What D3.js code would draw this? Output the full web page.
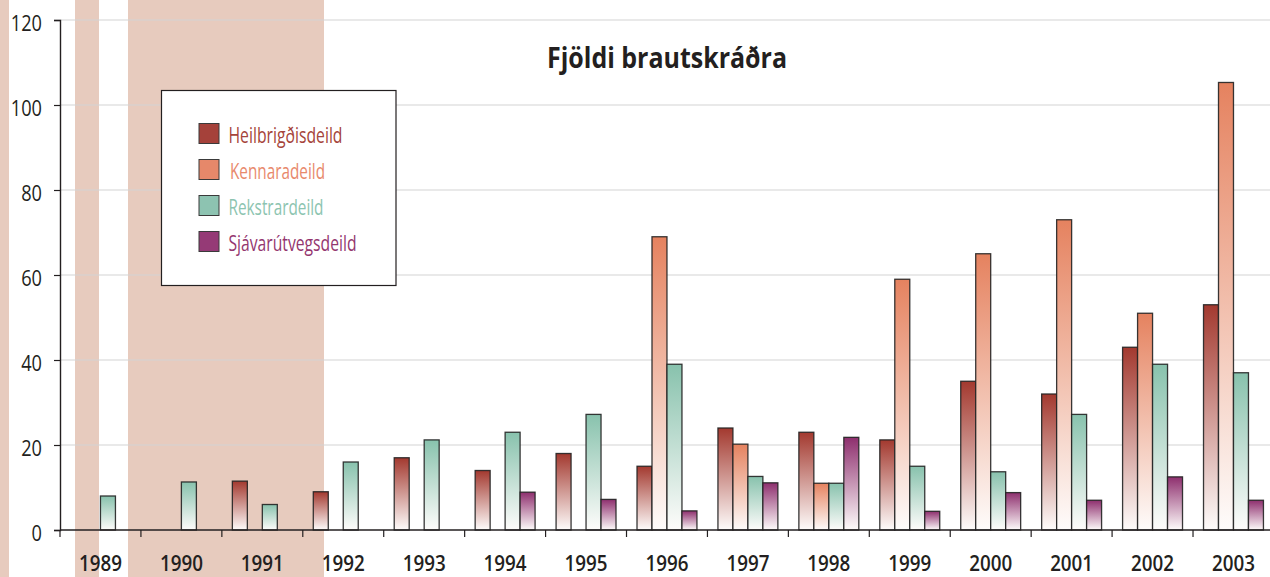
<!DOCTYPE html>
<html>
<head>
<meta charset="utf-8">
<script src="https://cdn.jsdelivr.net/npm/d3@7"></script>
<style>
  body { margin: 0; background: #fff; }
  text { font-family: "Open Sans", "Noto Sans", sans-serif; fill: #231f20; }
</style>
</head>
<body>
<div id="chart"></div>
<script>
// data
var years = ['1989','1990','1991','1992','1993','1994','1995','1996','1997','1998','1999','2000','2001','2002','2003']
var series = ['Heilbrigðisdeild','Kennaradeild','Rekstrardeild','Sjávarútvegsdeild']
var heilbrigdis  = [0, 0, 11.5, 9, 17, 14, 18, 15, 24, 23, 21.2, 35, 32, 43, 53]
var kennara      = [0, 0, 0, 0, 0, 0, 0, 69, 20.2, 11, 59, 65, 73, 51, 105.3]
var rekstrar     = [8, 11.3, 6, 16, 21.2, 23, 27.2, 39, 12.6, 11, 15, 13.7, 27.2, 39, 37]
var sjavarutvegs = [0, 0, 0, 0, 0, 8.9, 7.2, 4.5, 11.1, 21.8, 4.4, 8.8, 7, 12.5, 7]
var yTicks = [0, 20, 40, 60, 80, 100, 120]

var values = [heilbrigdis, kennara, rekstrar, sjavarutvegs]
var topColor = ['#a3392f', '#e5825f', '#88c2ad', '#8e2f6e']
var swatchColor = ['#a5413a', '#e6886a', '#8dc3b1', '#953a76']
var textColor = ['#a5443a', '#e8896c', '#8cc4b0', '#94376f']

var W = 1270, H = 577
var svg = d3.select('#chart').append('svg')
  .attr('width', W)
  .attr('height', H)

// pink page bands behind the chart
var bands = [[0, 9], [75, 99], [128, 324]]
svg.selectAll('.band').data(bands).enter().append('rect')
  .attr('x', function(d){ return d[0] })
  .attr('y', 0)
  .attr('width', function(d){ return d[1] - d[0] })
  .attr('height', H)
  .attr('fill', '#e7cbbe')

var x0 = 60, x1 = 60 + 15 * 80.93
var yscale = d3.scaleLinear().domain([0, 120]).range([530, 20])
var xscale = d3.scaleBand().domain(years).range([x0, x1]).paddingInner(0).paddingOuter(0)
var xinner = d3.scaleBand().domain(series).range([10.5, xscale.bandwidth() - 10.5])

// gridlines
svg.selectAll('.grid').data(yTicks.filter(function(d){ return d > 0 })).enter().append('line')
  .attr('x1', x0).attr('x2', W)
  .attr('y1', function(d){ return yscale(d) })
  .attr('y2', function(d){ return yscale(d) })
  .attr('stroke', '#d4d4d4')
  .attr('stroke-width', 1.2)

// gradients, one per series
var defs = svg.append('defs')
series.forEach(function(s, i){
  var g = defs.append('linearGradient')
    .attr('id', 'grad' + i)
    .attr('x1', 0).attr('y1', 0).attr('x2', 0).attr('y2', 1)
  g.append('stop').attr('offset', '0%').attr('stop-color', topColor[i])
  g.append('stop').attr('offset', '100%').attr('stop-color', '#fefcfb')
})

// bars
var rows = []
years.forEach(function(y, yi){
  series.forEach(function(s, si){
    if (values[si][yi] > 0) rows.push({ year: y, s: s, si: si, v: values[si][yi] })
  })
})
svg.selectAll('.bar').data(rows).enter().append('rect')
  .attr('class', 'bar')
  .attr('x', function(d){ return xscale(d.year) + xinner(d.s) })
  .attr('y', function(d){ return yscale(d.v) })
  .attr('width', xinner.bandwidth())
  .attr('height', function(d){ return yscale(0) - yscale(d.v) })
  .attr('fill', function(d){ return 'url(#grad' + d.si + ')' })
  .attr('stroke', '#222')
  .attr('stroke-opacity', 0.9)
  .attr('stroke-width', 1.3)

// y axis
var yaxis = svg.append('g').attr('transform', 'translate(' + x0 + ',0)')
  .call(d3.axisLeft(yscale).tickValues(yTicks).tickSize(6).tickPadding(12))
yaxis.select('.domain').attr('stroke', '#231f20').attr('stroke-width', 1.4)
yaxis.selectAll('.tick line').attr('stroke', '#231f20').attr('stroke-width', 1.2)
yaxis.selectAll('.tick text')
  .style('font-size', '22px')
  .attr('dy', '0.48em')
  .attr('fill', '#231f20')
  .attr('textLength', function(d){ return String(d).length * 10.4 })
  .attr('lengthAdjust', 'spacingAndGlyphs')

// x axis: base line, ticks at band edges, labels
svg.append('line')
  .attr('x1', x0).attr('x2', W)
  .attr('y1', yscale(0)).attr('y2', yscale(0))
  .attr('stroke', '#231f20').attr('stroke-width', 1.4)
svg.selectAll('.xtick').data(years).enter().append('line')
  .attr('x1', function(d){ return xscale(d) })
  .attr('x2', function(d){ return xscale(d) })
  .attr('y1', yscale(0)).attr('y2', yscale(0) + 7)
  .attr('stroke', '#231f20').attr('stroke-width', 1.2)
svg.selectAll('.xlab').data(years).enter().append('text')
  .attr('x', function(d){ return xscale(d) + xscale.bandwidth() / 2 - 21.5 })
  .attr('y', 571)
  .attr('textLength', 43)
  .attr('lengthAdjust', 'spacingAndGlyphs')
  .style('font-size', '22px')
  .style('font-weight', 600)
  .text(function(d){ return d })

// title
svg.append('text')
  .attr('x', 547).attr('y', 68)
  .attr('textLength', 240)
  .attr('lengthAdjust', 'spacingAndGlyphs')
  .style('font-size', '28px')
  .style('font-weight', 'bold')
  .text('Fjöldi brautskráðra')

// legend
var leg = svg.append('g')
leg.append('rect')
  .attr('x', 161.5).attr('y', 90.5)
  .attr('width', 234.5).attr('height', 195)
  .attr('fill', '#fff')
  .attr('stroke', '#231f20').attr('stroke-width', 1.2)
var legW = [114, 95, 95, 128]
var legItem = leg.selectAll('.item').data(series).enter().append('g')
  .attr('transform', function(d, i){ return 'translate(199,' + (123.5 + i * 36) + ')' })
legItem.append('rect')
  .attr('width', 20).attr('height', 20)
  .attr('fill', function(d, i){ return swatchColor[i] })
  .attr('stroke', '#3a3a3a').attr('stroke-width', 1)
legItem.append('text')
  .attr('x', function(d, i){ return i == 1 ? 31 : 29.5 })
  .attr('y', 19)
  .attr('textLength', function(d, i){ return legW[i] })
  .attr('lengthAdjust', 'spacingAndGlyphs')
  .style('font-size', '21px')
  .style('fill', function(d, i){ return textColor[i] })
  .text(function(d){ return d })
</script>
</body>
</html>
